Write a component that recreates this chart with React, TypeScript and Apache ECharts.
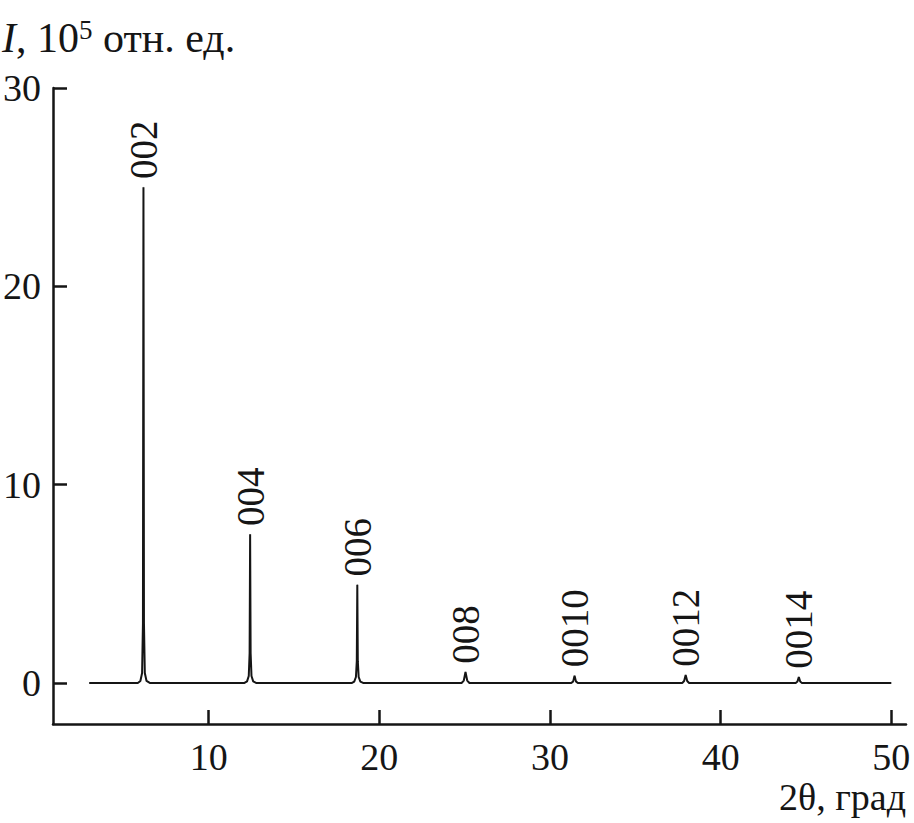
import React, { useEffect, useRef } from "react";
import * as echarts from "echarts";

// Peak labels (Miller indices), positions (2θ, deg) and heights (10^5 rel. units)
const peakNames = ["002", "004", "006", "008", "0010", "0012", "0014"];
const peakPositions = [6.18, 12.43, 18.71, 25.05, 31.44, 37.95, 44.58];
const peakHeights = [25.0, 7.5, 4.95, 0.55, 0.37, 0.4, 0.3];

// Diffraction pattern points [2θ, I]
const patternX = [
  3.0, 5.85, 6.0, 6.1, 6.15, 6.18, 6.21, 6.26, 6.36, 6.55,
  12.1, 12.25, 12.35, 12.4, 12.43, 12.46, 12.51, 12.61, 12.78,
  18.4, 18.53, 18.63, 18.68, 18.71, 18.74, 18.79, 18.89, 19.05,
  24.82, 24.95, 25.05, 25.15, 25.28,
  31.25, 31.36, 31.44, 31.52, 31.63,
  37.75, 37.86, 37.95, 38.04, 38.15,
  44.4, 44.5, 44.58, 44.66, 44.76,
  50.0,
];
const patternY = [
  0, 0, 0.1, 0.5, 3.0, 25.0, 3.0, 0.5, 0.1, 0,
  0, 0.08, 0.35, 1.5, 7.5, 1.5, 0.35, 0.08, 0,
  0, 0.07, 0.3, 1.1, 4.95, 1.1, 0.3, 0.07, 0,
  0, 0.12, 0.55, 0.12, 0,
  0, 0.08, 0.37, 0.08, 0,
  0, 0.1, 0.4, 0.1, 0,
  0, 0.07, 0.3, 0.07, 0,
  0,
];

const xTicks = [10, 20, 30, 40, 50];
const yTicks = [0, 10, 20, 30];

const FONT = "'Liberation Serif', 'Times New Roman', serif";
const INK = "#151515";

export default function App() {
  const ref = useRef<HTMLDivElement>(null);
  useEffect(() => {
    if (!ref.current) return;
    const chart = echarts.init(ref.current, null, { renderer: "svg" });
    const lineData = patternX.map((x, i) => [x, patternY[i]]);
    const labelData = peakPositions.map((x, i) => ({
      value: [x, peakHeights[i]],
      name: peakNames[i],
    }));
    chart.setOption({
      animation: false,
      backgroundColor: "#ffffff",
      grid: { left: 52, right: 8, top: 88, bottom: 99, containLabel: false },
      xAxis: {
        type: "value",
        min: 0.88,
        max: 50.86,
        splitLine: { show: false },
        axisLine: { onZero: false, lineStyle: { color: INK, width: 2.5 } },
        axisTick: {
          inside: true,
          length: 14,
          customValues: xTicks,
          lineStyle: { color: INK, width: 2.5 },
        },
        axisLabel: {
          customValues: xTicks,
          margin: 14,
          fontFamily: FONT,
          fontSize: 38,
          color: INK,
        },
      },
      yAxis: {
        type: "value",
        min: -2.07,
        max: 30,
        splitLine: { show: false },
        axisLine: { onZero: false, lineStyle: { color: INK, width: 2.5 } },
        axisTick: {
          inside: true,
          length: 14,
          customValues: yTicks,
          lineStyle: { color: INK, width: 2.5 },
        },
        axisLabel: {
          customValues: yTicks,
          margin: 12,
          fontFamily: FONT,
          fontSize: 38,
          color: INK,
        },
      },
      series: [
        {
          type: "line",
          data: lineData,
          showSymbol: false,
          symbol: "none",
          lineStyle: { color: INK, width: 2 },
          z: 3,
        },
        {
          type: "scatter",
          data: labelData,
          symbol: "circle",
          symbolSize: 0.5,
          itemStyle: { color: INK, opacity: 1 },
          label: {
            show: true,
            position: "top",
            distance: 8,
            rotate: 90,
            align: "left",
            verticalAlign: "middle",
            formatter: "{b}",
            fontFamily: FONT,
            fontSize: 39,
            fontWeight: "normal",
            color: INK,
            opacity: 1,
          },
          z: 4,
        },
      ],
      graphic: [
        {
          type: "text",
          left: 2,
          top: 16,
          style: {
            text: "{i|I}, 10{s|5} отн. ед.",
            fontFamily: FONT,
            fontSize: 42,
            fill: INK,
            rich: {
              i: { fontFamily: FONT, fontSize: 42, fontStyle: "italic", fill: INK, lineHeight: 44 },
              s: { fontFamily: FONT, fontSize: 27, fill: INK, verticalAlign: "top", lineHeight: 44, padding: [0, 0, 14, 0] },
            },
          },
        },
        {
          type: "text",
          right: 8,
          top: 778,
          style: {
            text: "2θ, град",
            fontFamily: FONT,
            fontSize: 38,
            fill: INK,
          },
        },
      ],
    });
    return () => chart.dispose();
  }, []);
  return <div ref={ref} style={{ width: 914, height: 823, position: "absolute", left: 0, top: 0 }} />;
}
